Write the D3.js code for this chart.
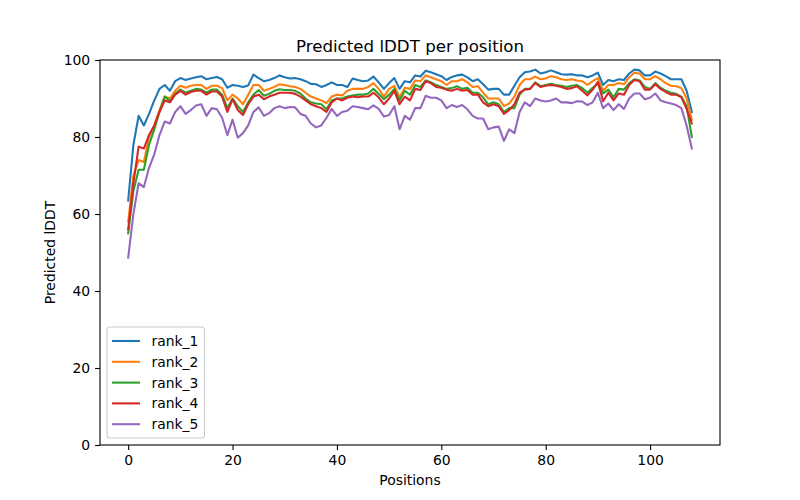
<!DOCTYPE html>
<html><head><meta charset="utf-8">
<script src="https://cdn.jsdelivr.net/npm/d3@7"></script>
<style>body{margin:0;background:#fff;} svg{display:block;font-family:"DejaVu Sans",sans-serif;}</style>
</head><body>
<svg id="c" width="800" height="500"></svg>
<script>
const seriesNames = ["rank_1","rank_2","rank_3","rank_4","rank_5"];
const colors = ["#1f77b4","#ff7f0e","#2ca02c","#d62728","#9467bd"];
const xTicks = [0,20,40,60,80,100];
const yTicks = [0,20,40,60,80,100];
const rank_1 = [63.5,78,85.5,83,86,89.5,92.5,93.5,92,94.5,95.3,94.8,95.2,95.5,95.8,95,95.3,95.6,95,92.8,93.5,93.3,93,93.4,96.2,95.3,94.5,94.8,95.3,96,95.5,95.2,95.3,95,94.5,93.8,93.7,93,93.5,94.2,93.5,93.5,93,95.2,94.8,94.5,94.7,95.7,94.2,92.5,94,95.3,92.5,94.5,94.2,96,95.7,97.2,96.8,96.3,95.8,94.8,95.6,96,96.2,95.5,94.5,95,93.7,92.3,92.5,92.5,91,91,93.3,95.5,96.8,97,97.5,96.5,96.8,97.3,96.8,96.3,96.2,96.3,96,96,95.5,96,96.7,93.5,94.8,94.5,95,94.8,96.5,97.5,97.3,96,96,97,96.5,95.8,95,95,95,92,86.5];
const rank_2 = [58,70,74,73.5,80,83,87,90.5,90,92,93.3,92.8,93.3,93.5,93.5,92.5,93.3,93.3,92.7,89.5,91,90,88.5,91,93.5,93.5,92,92.5,93,93.7,93.5,93.2,93,92.5,91.5,90.5,90,89.5,88.8,90.5,91,90.8,92,92.5,92.5,92.5,93,94,92.5,90.5,92.5,93.3,90.3,92.8,92.5,94.7,94.5,96,95.5,95,94.5,93.5,94.5,94.5,95,94.2,93,93.2,91.5,90,90,90,88,88.7,90.5,93.5,95,95,95.7,95,95.2,95.8,95.5,95,94.8,95,94.7,94.5,93.5,94.5,95.3,92,93.5,93.5,94,93.7,95.5,96.7,96.5,95,95,95.8,95,94,93.3,93.2,92.7,90,84.5];
const rank_3 = [55,66,71.5,71.5,78,82,86.5,90.5,89.3,91.2,92.3,91.5,92,92.5,92.3,91.5,92.3,92.3,91,87.5,90,88,86.5,89,91,92.2,90.7,91.2,92,92.4,92.2,92.2,92,91.3,90,89,88.7,88.5,87.2,89.5,90,90,90.5,90.8,91,91,91.3,92.5,91.2,89.8,91,92.5,89.5,92,91,93.5,93,94.7,94.2,93.5,93,92.5,92.7,93.2,92.5,92.8,91.5,91.5,90.3,88.5,89,88.5,86.5,87.5,87.5,91,92.5,92.5,94.2,93.2,93.5,93.8,93.5,93.3,93,93.3,93.5,92.7,91.5,92.8,93.8,91.3,92.3,90.3,92.5,92.3,94,95,94.7,93,92.5,94,92.8,92,91.5,91.2,90.5,88,80];
const rank_4 = [56,68,77.5,77,80.5,83,86.5,89.5,89,91,92,91,91.7,92,92,91,91.8,91.8,90.5,86.5,89.8,87,85.7,88.5,90.5,91,89.8,90.5,91,91.5,91.5,91.5,91.2,90.5,89.5,88.5,88,87.5,86.5,89,90,89.5,90.2,90.5,90.3,90.5,90.5,91.5,90.3,88.5,90,92,88.5,90.5,89.5,92.5,92.2,94.5,94,93,92.8,92.3,92,92.5,92,92.2,91,91,89,88,88.5,88,86,87,88.5,91.5,92.3,92.5,94,93,93.3,93.5,93.3,93,92.5,92.7,93.2,92,90.8,92.3,94.3,89.3,91.5,89.5,91.3,91,93.5,94.8,94.5,92.3,92.3,93.7,92.5,91.7,91,91,90.3,87.3,83.5];
const rank_5 = [48.7,60,68,67,72,75.5,80.5,84,83.5,86.5,88,86,87,88.2,88.5,85.5,87.5,87.2,85,80.5,84.5,79.8,81,83,86.5,87.7,85.5,86.2,87.5,88,87.5,87.8,87.7,86,85.5,83.5,82.5,83,85,87.3,85.5,86.5,86.8,88,87.8,87.5,87.2,88.2,87.3,85.3,85.7,88,82,85.5,84.5,87.5,87.5,90.7,90.2,90.2,89.5,87.5,88.3,87.8,88.3,87.2,85.5,84.8,84.8,82,82.5,82.7,79,82,81,86.5,89,88,90,89.5,89.2,89.5,90,89,89,88.8,89.3,89.2,88.3,89,91.5,87.5,88.7,87,88.5,87.3,90,91.3,91.3,89.8,90.2,91.3,89.5,89,88.7,88.3,87.5,83,77];
const allSeries = [rank_1,rank_2,rank_3,rank_4,rank_5];

const svg = d3.select("#c");
const L=100,R=720,T=60,B=445;
const n = rank_1.length;
const span = n-1;
const x = d3.scaleLinear().domain([-0.05*span, span*1.05]).range([L,R]);
const y = d3.scaleLinear().domain([0,100]).range([B,T]);

const fs = 13.9;
const xa = svg.append("g").attr("transform",`translate(0,${B})`)
  .call(d3.axisBottom(x).tickValues(xTicks).tickSize(4.9).tickPadding(4.9).tickFormat(d3.format("d")));
const ya = svg.append("g").attr("transform",`translate(${L},0)`)
  .call(d3.axisLeft(y).tickValues(yTicks).tickSize(4.9).tickPadding(4.9).tickFormat(d3.format("d")));
[xa,ya].forEach(a=>{
  a.select(".domain").remove();
  a.selectAll("line").attr("stroke","#000").attr("stroke-width",1.1);
  a.selectAll("text").attr("font-size",fs).attr("font-family","DejaVu Sans").attr("fill","#000");
});

const line = d3.line().x((d,i)=>x(i)).y(d=>y(d));
const gl = svg.append("g");
allSeries.forEach((s,k)=>{
  gl.append("path").datum(s).attr("d",line).attr("fill","none")
    .attr("stroke",colors[k]).attr("stroke-width",2.08).attr("stroke-linejoin","round").attr("stroke-linecap","square");
});

svg.append("rect").attr("x",L).attr("y",T).attr("width",R-L).attr("height",B-T)
  .attr("fill","none").attr("stroke","#000").attr("stroke-width",1.1);

svg.append("text").attr("x",(L+R)/2).attr("y",T-8.3).attr("text-anchor","middle")
  .attr("font-size",16.67).text("Predicted lDDT per position");
svg.append("text").attr("x",(L+R)/2).attr("y",485).attr("text-anchor","middle")
  .attr("font-size",fs).text("Positions");
svg.append("text").attr("transform",`translate(55,${(T+B)/2}) rotate(-90)`).attr("text-anchor","middle")
  .attr("font-size",fs).text("Predicted lDDT");

// legend
const lg = svg.append("g");
lg.append("rect").attr("x",107).attr("y",327).attr("width",97.5).attr("height",111)
  .attr("rx",3).attr("fill","#fff").attr("fill-opacity",0.8).attr("stroke","#ccc").attr("stroke-width",1.1);
seriesNames.forEach((nm,k)=>{
  const yy = 341 + k*20.8;
  lg.append("line").attr("x1",112).attr("x2",140).attr("y1",yy).attr("y2",yy)
    .attr("stroke",colors[k]).attr("stroke-width",2.08);
  lg.append("text").attr("x",151.5).attr("y",yy+5).attr("font-size",fs).text(nm);
});
</script>
</body></html>
